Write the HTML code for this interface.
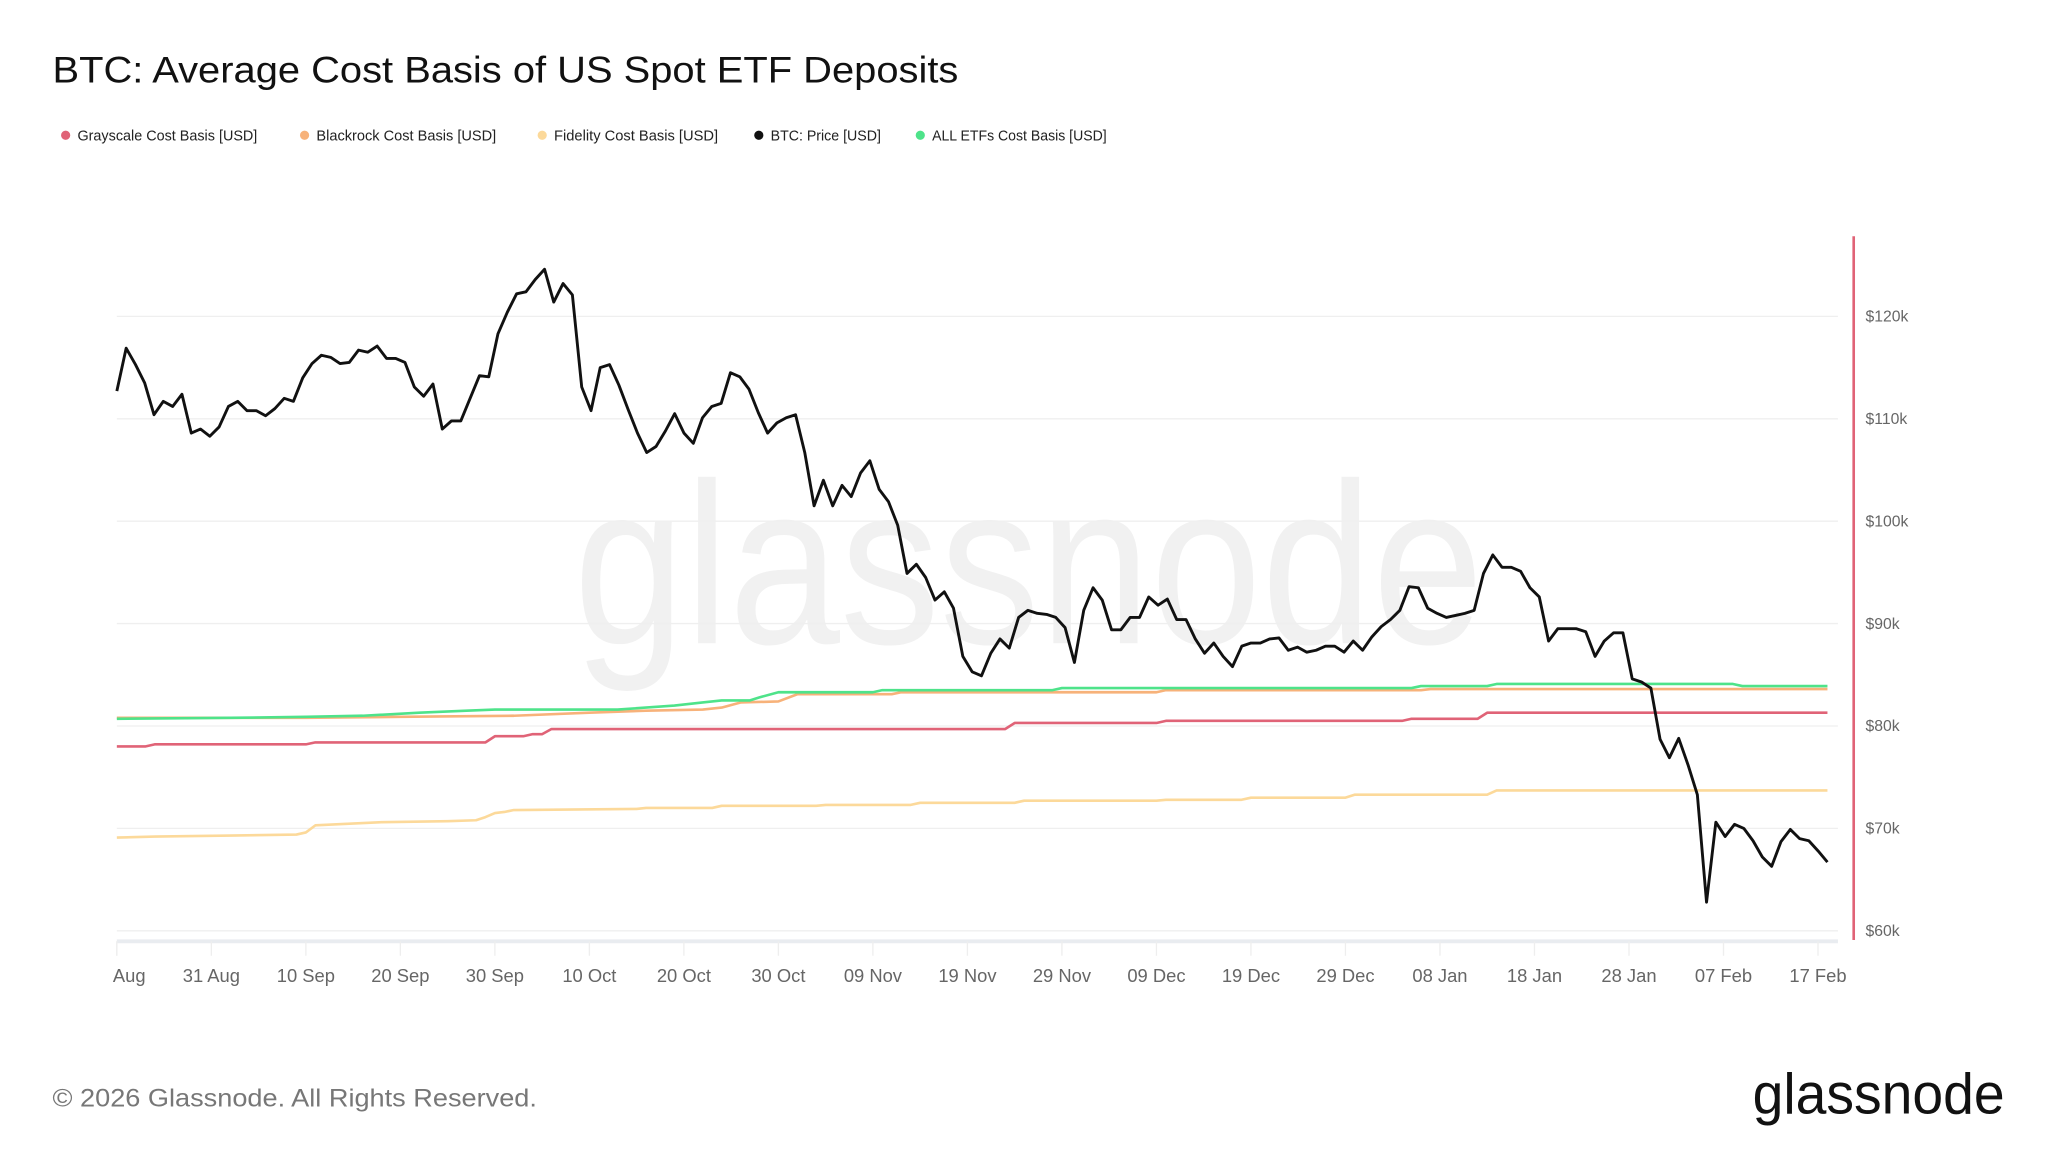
<!DOCTYPE html>
<html><head><meta charset="utf-8"><style>
html,body{margin:0;padding:0;background:#fff;}
svg{display:block;font-family:"Liberation Sans",sans-serif;}
</style></head><body>
<svg id="chart" width="2048" height="1152" viewBox="0 0 1560 877.5" xmlns="http://www.w3.org/2000/svg">
<rect width="1560" height="877.5" fill="#fff"/>
<text x="437" y="490" font-size="175" fill="#f1f1f1" textLength="693" lengthAdjust="spacingAndGlyphs">glassnode</text>
<text x="40" y="63" font-size="28.5" fill="#111" textLength="690" lengthAdjust="spacingAndGlyphs">BTC: Average Cost Basis of US Spot ETF Deposits</text>
<g id="legend" font-size="12" fill="#222"></g>
<g id="grid"></g>
<g id="xaxis"></g>
<g id="yaxis"></g>
<g id="series"></g>
<text x="40" y="843" font-size="19" fill="#777" textLength="369" lengthAdjust="spacingAndGlyphs">© 2026 Glassnode. All Rights Reserved.</text>
<text x="1335" y="848" font-size="44" fill="#111" textLength="192" lengthAdjust="spacingAndGlyphs">glassnode</text>
</svg>
<script>
const legendLabels = ["Grayscale Cost Basis [USD]","Blackrock Cost Basis [USD]","Fidelity Cost Basis [USD]","BTC: Price [USD]","ALL ETFs Cost Basis [USD]"];
const legendColors = ["#e06377","#f7b27a","#fcd99a","#111111","#4ee38a"];
const yTicks = [60,70,80,90,100,110,120];
const xTickLabels = ["Aug","31 Aug","10 Sep","20 Sep","30 Sep","10 Oct","20 Oct","30 Oct","09 Nov","19 Nov","29 Nov","09 Dec","19 Dec","29 Dec","08 Jan","18 Jan","28 Jan","07 Feb","17 Feb"];
const xTickDays = [1.4,10,20,30,40,50,60,70,80,90,100,110,120,130,140,150,160,170,180];
const price = [112.7,116.9,115.3,113.5,110.4,111.7,111.2,112.4,108.6,109,108.3,109.2,111.2,111.7,110.8,110.8,110.3,111,112,111.7,114,115.4,116.2,116,115.4,115.5,116.7,116.5,117.1,115.9,115.9,115.5,113.1,112.2,113.4,109,109.8,109.8,112,114.2,114.1,118.3,120.4,122.2,122.4,123.6,124.6,121.4,123.2,122.1,113.1,110.8,115,115.3,113.3,110.9,108.6,106.7,107.3,108.8,110.5,108.6,107.6,110.1,111.2,111.5,114.5,114.1,112.9,110.6,108.6,109.6,110.1,110.4,106.7,101.5,104,101.5,103.5,102.4,104.7,105.9,103.1,101.9,99.6,94.9,95.8,94.5,92.3,93.1,91.5,86.8,85.3,84.9,87.1,88.5,87.6,90.6,91.3,91,90.9,90.6,89.6,86.2,91.3,93.5,92.3,89.4,89.4,90.6,90.6,92.6,91.8,92.4,90.4,90.4,88.5,87.1,88.1,86.8,85.8,87.8,88.1,88.1,88.5,88.6,87.4,87.7,87.2,87.4,87.8,87.8,87.2,88.3,87.4,88.7,89.7,90.4,91.3,93.6,93.5,91.5,91,90.6,90.8,91,91.3,94.9,96.7,95.5,95.5,95.1,93.5,92.6,88.3,89.5,89.5,89.5,89.2,86.8,88.3,89.1,89.1,84.6,84.3,83.7,78.7,76.9,78.8,76.2,73.3,62.8,70.6,69.2,70.4,70,68.8,67.2,66.3,68.7,69.9,69,68.8,67.8,66.7];
const grayDays = [0,3,4,20,21,39,40,43,44,45,46,94,95,110,111,136,137,144,145,181];
const grayVals = [78.0,78.0,78.2,78.2,78.4,78.4,79.0,79.0,79.2,79.2,79.7,79.7,80.3,80.3,80.5,80.5,80.7,80.7,81.3,81.3];
const blackDays = [0,20,30,42,50,56,62,64,66,70,72,82,83,110,111,138,139,181];
const blackVals = [80.8,80.8,80.9,81.0,81.3,81.5,81.6,81.8,82.3,82.4,83.1,83.1,83.3,83.3,83.5,83.5,83.6,83.6];
const fidDays = [0,4,12,19,20,21,28,35,38,39,40,41,42,55,56,63,64,74,75,84,85,95,96,110,111,119,120,130,131,145,146,181];
const fidVals = [69.1,69.2,69.3,69.4,69.6,70.3,70.6,70.7,70.8,71.1,71.5,71.6,71.8,71.9,72.0,72.0,72.2,72.2,72.3,72.3,72.5,72.5,72.7,72.7,72.8,72.8,73.0,73.0,73.3,73.3,73.7,73.7];
const allDays = [0,12,20,26,32,37,40,42,53,59,62,64,67,68,70,75,80,81,99,100,137,138,145,146,171,172,181];
const allVals = [80.7,80.8,80.9,81.0,81.3,81.5,81.6,81.6,81.6,82.0,82.3,82.5,82.5,82.8,83.3,83.3,83.3,83.5,83.5,83.7,83.7,83.9,83.9,84.1,84.1,83.9,83.9];

const NS="http://www.w3.org/2000/svg";
const X0=89, X1=1392, NDAYS=181;
const xScale = d => X0 + d*(X1-X0)/NDAYS;
const yScale = v => 241 + (120-v)*7.8;
function el(tag, attrs, parent){const e=document.createElementNS(NS,tag);for(const k in attrs)e.setAttribute(k,attrs[k]);parent.appendChild(e);return e;}

const legend=document.getElementById('legend');
const legendX=[50,232,413,578,701];
const legendW=[137,137,125,84,133];
legendLabels.forEach((l,i)=>{
  const c=el('circle',{cx:legendX[i],cy:103,r:3.5,fill:legendColors[i]},legend);
  
  
  const t=el('text',{x:legendX[i]+9,y:107,'font-size':11.5,fill:'#222',textLength:legendW[i],lengthAdjust:'spacingAndGlyphs'},legend);
  t.textContent=l;
  
  
});

const grid=document.getElementById('grid');
const yaxis=document.getElementById('yaxis');
yTicks.forEach(v=>{
  const g=el('line',{x1:89,x2:1400,y1:yScale(v),y2:yScale(v),stroke:'#efefef','stroke-width':1},grid);
  
  
  const t=el('text',{x:1421,y:yScale(v)+4,'font-size':12,fill:'#666'},yaxis);
  t.textContent='$'+v+'k';
  
  
});
const ax=el('line',{x1:1412,x2:1412,y1:180,y2:716,stroke:'#e06377','stroke-width':2},yaxis);



const xaxis=document.getElementById('xaxis');
const base=el('line',{x1:89,x2:1400,y1:717,y2:717,stroke:'#e9ecf0','stroke-width':3},xaxis);


el('line',{x1:89,x2:89,y1:717,y2:728,stroke:'#eee','stroke-width':1},xaxis);
xTickLabels.forEach((l,i)=>{
  const tx = i===0?89:xScale(xTickDays[i]);
  const tk=el('line',{x1:tx,x2:tx,y1:717,y2:728,stroke:'#eee','stroke-width':1},xaxis);
  
  
  const t=el('text',{x:i===0?86:tx,y:748,'font-size':14,fill:'#666','text-anchor':i===0?'start':'middle'},xaxis);
  t.textContent=l;
  
  
});

const series=document.getElementById('series');
function line(days, vals, color, w, name){
  const pts=days.map((d,i)=>xScale(d).toFixed(1)+','+yScale(vals[i]).toFixed(1)).join(' ');
  const p=el('polyline',{points:pts,fill:'none',stroke:color,'stroke-width':w,'stroke-linejoin':'round'},series);
  
  
}
line(fidDays,fidVals,'#fcd99a',2,'fidelity-cost-basis-line');
line(grayDays,grayVals,'#e06377',2,'grayscale-cost-basis-line');
line(blackDays,blackVals,'#f7b27a',2,'blackrock-cost-basis-line');
line(allDays,allVals,'#4ee38a',2,'all-etfs-cost-basis-line');
const priceDays=price.map((v,i)=>i*NDAYS/(price.length-1));
line(priceDays,price,'#111',2.2,'btc-price-line');
</script>
</body></html>
